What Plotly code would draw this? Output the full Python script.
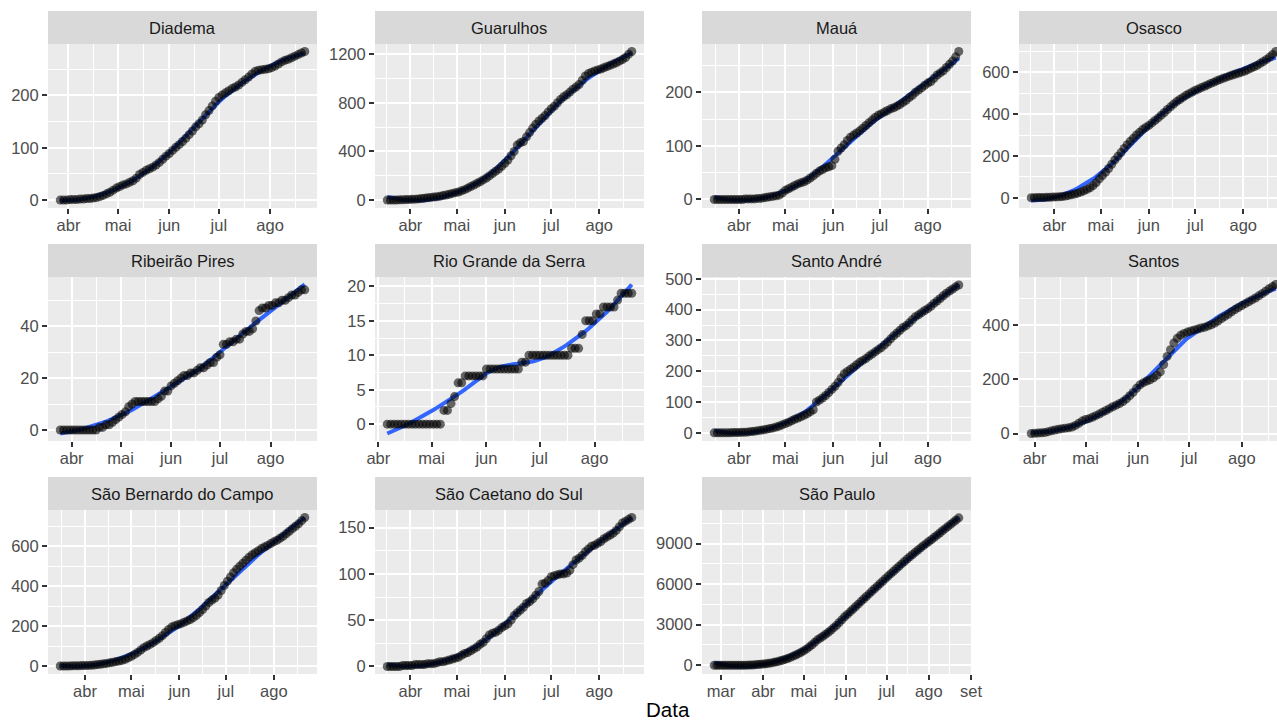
import numpy as np
import pandas as pd
import plotly.graph_objects as go

# ---------------- data ----------------
cities = ["Diadema", "Guarulhos", "Mauá", "Osasco",
          "Ribeirão Pires", "Rio Grande da Serra", "Santo André", "Santos",
          "São Bernardo do Campo", "São Caetano do Sul", "São Paulo"]
start_dates = ["2020-03-27", "2020-03-17", "2020-03-16", "2020-03-17",
               "2020-03-25", "2020-04-06", "2020-03-16", "2020-03-30",
               "2020-03-16", "2020-03-17", "2020-02-25"]
step_days = 2  # one observation every two days

diadema = [0, 0, 0, 1, 1, 1, 2, 2, 3, 3, 4, 5, 7, 9, 12, 15, 19, 23, 26, 29,
           31, 34, 37, 42, 49, 53, 57, 60, 63, 67, 72, 78, 84, 89, 95, 101, 106, 112, 118, 125,
           132, 140, 146, 153, 163, 171, 180, 189, 196, 201, 205, 209, 213, 216, 220, 225, 230, 235, 241, 246,
           248, 249, 250, 251, 253, 256, 260, 264, 267, 269, 272, 275, 278, 281, 284]
guarulhos = [0, 0, 1, 1, 2, 3, 4, 5, 6, 8, 10, 13, 16, 19, 22, 25, 28, 32, 37, 42,
             48, 55, 61, 67, 76, 86, 98, 112, 124, 138, 151, 166, 181, 199, 218, 237, 255, 278, 303, 330,
             365, 400, 452, 471, 482, 520, 555, 592, 624, 650, 672, 695, 725, 751, 772, 800, 828, 850, 866, 888,
             912, 930, 950, 985, 1020, 1040, 1052, 1062, 1070, 1078, 1088, 1098, 1108, 1118, 1129, 1142, 1155, 1172, 1200, 1222]
maua = [0, 0, 0, 0, 0, 0, 0, 0, 0, 0, 1, 1, 1, 1, 2, 2, 3, 4, 5, 6,
        7, 8, 12, 17, 20, 23, 26, 29, 31, 33, 36, 40, 44, 49, 53, 56, 59, 61, 63, 75,
        90, 96, 102, 110, 116, 120, 124, 128, 133, 138, 143, 148, 153, 157, 160, 163, 166, 169, 171, 174,
        177, 181, 185, 190, 194, 200, 204, 208, 213, 217, 220, 226, 232, 236, 240, 246, 252, 258, 266, 276]
osasco = [0, 0, 1, 1, 1, 2, 2, 3, 4, 5, 6, 8, 11, 14, 18, 22, 27, 33, 40, 48,
          58, 72, 90, 106, 122, 140, 160, 181, 198, 216, 236, 254, 270, 285, 300, 313, 326, 336, 346, 358,
          370, 382, 395, 408, 422, 435, 448, 460, 470, 480, 490, 498, 506, 514, 520, 527, 533, 540, 547, 553,
          560, 566, 572, 577, 582, 587, 592, 597, 601, 606, 613, 620, 627, 634, 643, 652, 662, 673, 686, 700]
ribeirao_pires = [0, 0, 0, 0, 0, 0, 0, 0, 0, 0, 0, 0, 1, 1, 2, 2, 3, 4, 5, 6,
                  7, 9, 10, 11, 11, 11, 11, 11, 11, 11, 12, 13, 15, 15, 17, 18, 19, 20, 21, 21,
                  22, 22, 23, 24, 24, 25, 26, 26, 28, 29, 33, 33, 34, 34, 35, 35, 37, 38, 38, 39,
                  42, 46, 47, 47, 48, 48, 49, 49, 50, 50, 51, 52, 52, 53, 54, 54]
rio_grande_da_serra = [0, 0, 0, 0, 0, 0, 0, 0, 0, 0, 0, 0, 0, 0, 0, 0, 2, 2, 3, 4,
                       6, 6, 7, 7, 7, 7, 7, 7, 8, 8, 8, 8, 8, 8, 8, 8, 8, 8, 9, 9,
                       10, 10, 10, 10, 10, 10, 10, 10, 10, 10, 10, 10, 11, 11, 11, 13, 15, 15, 15, 16,
                       16, 17, 17, 17, 17, 18, 19, 19, 19, 19]
santo_andre = [0, 0, 0, 0, 0, 0, 1, 1, 1, 2, 2, 3, 4, 5, 7, 8, 10, 12, 14, 16,
               19, 22, 26, 30, 34, 39, 44, 48, 52, 57, 62, 68, 75, 100, 106, 113, 121, 131, 141, 151,
               163, 178, 192, 199, 206, 213, 221, 229, 235, 241, 249, 256, 263, 270, 277, 286, 295, 305, 315, 324,
               333, 342, 348, 357, 367, 377, 383, 390, 397, 403, 411, 420, 428, 436, 445, 453, 460, 467, 474, 480]
santos = [0, 1, 2, 3, 4, 7, 10, 13, 16, 18, 20, 21, 24, 30, 38, 46, 52, 55, 60, 66,
          72, 79, 85, 92, 99, 105, 111, 118, 128, 140, 152, 167, 180, 188, 194, 199, 206, 215, 228, 255,
          285, 310, 335, 352, 363, 370, 375, 379, 383, 386, 390, 393, 397, 402, 408, 416, 425, 433, 441, 450,
          458, 466, 473, 480, 487, 494, 501, 509, 517, 526, 535, 543, 551]
sao_bernardo = [0, 0, 0, 0, 1, 1, 1, 2, 2, 3, 4, 5, 7, 9, 11, 13, 16, 19, 22, 25,
                29, 34, 41, 49, 58, 68, 80, 92, 100, 108, 117, 128, 139, 152, 168, 183, 195, 202, 207, 212,
                219, 226, 233, 242, 254, 268, 283, 300, 318, 330, 340, 355, 378, 403, 425, 446, 467, 485, 500, 515,
                530, 545, 557, 567, 577, 588, 596, 604, 613, 622, 630, 640, 650, 662, 675, 688, 700, 712, 728, 744]
sao_caetano = [0, 0, 0, 0, 0, 1, 1, 1, 1, 2, 2, 2, 2, 3, 3, 3, 4, 5, 5, 6,
               7, 8, 9, 10, 12, 14, 15, 17, 19, 21, 24, 26, 30, 34, 36, 37, 39, 42, 44, 46,
               50, 55, 58, 61, 64, 68, 70, 73, 77, 81, 89, 90, 93, 97, 98, 99, 100, 100, 101, 104,
               110, 115, 117, 120, 124, 127, 130, 131, 133, 135, 138, 140, 142, 144, 147, 151, 155, 157, 159, 161]
sao_paulo = [0, 0, 0, 0, 0, 0, 0, 0, 0, 0, 0,
             1, 5, 10, 20, 35, 50, 70, 90, 110, 140,
             175, 215, 260, 310, 370, 430, 500, 580, 670, 760,
             860, 960, 1080, 1210, 1360, 1520, 1700, 1880, 2010, 2140,
             2290, 2440, 2600, 2780, 2960, 3160, 3370, 3590,
             3760, 3950, 4140, 4330, 4520, 4710, 4900, 5090, 5280, 5470,
             5660, 5840, 6030, 6220, 6410, 6600, 6780, 6960, 7140, 7320,
             7500, 7680, 7860, 8030, 8200, 8370, 8530, 8690, 8850, 9000,
             9160, 9310,
             9470, 9630, 9790, 9950, 10110, 10270, 10430, 10590, 10750, 10910]

series = [diadema, guarulhos, maua, osasco, ribeirao_pires, rio_grande_da_serra,
          santo_andre, santos, sao_bernardo, sao_caetano, sao_paulo]
y_tick_step = [100, 400, 100, 200, 20, 5, 100, 200, 200, 50, 3000]
month_labels = ["jan", "fev", "mar", "abr", "mai", "jun", "jul", "ago", "set", "out", "nov"]
month_starts = pd.date_range("2020-01-01", "2020-11-01", freq="MS")
x_title = "Data"

# ---------------- layout geometry (pixels) ----------------
W, H = 1277, 722
col_left = [48, 375, 702, 1019]
PW = 269
row_top = [44, 277, 510]
PH = 164
STRIP_H = 33
FONT = "Liberation Sans, Arial, Helvetica, sans-serif"

EPOCH = pd.Timestamp("1970-01-01")


def to_num(ts):
    return (pd.DatetimeIndex(ts) - EPOCH) / pd.Timedelta(days=1)


def to_ts(v):
    return EPOCH + pd.to_timedelta(v, unit="D")


def loess(x, y, xs, span=0.75):
    n = len(x)
    q = int(np.floor(n * span))
    out = []
    for x0 in xs:
        d = np.abs(x - x0)
        h = np.sort(d)[q - 1]
        w = (1 - np.clip(d / h, 0, 1) ** 3) ** 3
        X = np.vstack([np.ones(n), x - x0, (x - x0) ** 2]).T
        sw = np.sqrt(w)
        beta = np.linalg.lstsq(X * sw[:, None], y * sw, rcond=None)[0]
        out.append(beta[0])
    return np.array(out)


fig = go.Figure()
layout = dict(width=W, height=H, autosize=False,
              margin=dict(l=0, r=0, t=0, b=0, pad=0),
              paper_bgcolor="white", plot_bgcolor="#EBEBEB",
              showlegend=False, font=dict(family=FONT), shapes=[], annotations=[])

month_num = np.array(to_num(month_starts))
minor_num = (month_num[:-1] + month_num[1:]) / 2

for i, (city, start, vals) in enumerate(zip(cities, start_dates, series)):
    r, c = divmod(i, 4)
    k = i + 1
    xname = "x" if k == 1 else f"x{k}"
    yname = "y" if k == 1 else f"y{k}"

    dates = pd.date_range(start, periods=len(vals), freq=f"{step_days}D")
    xn = np.array(to_num(dates), dtype=float)
    yv = np.array(vals, dtype=float)
    xs = np.linspace(xn.min(), xn.max(), 80)
    ys = loess(xn, yv, xs)

    # smooth first, points on top (as in ggplot layer order)
    fig.add_trace(go.Scatter(x=to_ts(xs), y=ys, mode="lines", xaxis=xname, yaxis=yname,
                             line=dict(color="#3366FF", width=4), hoverinfo="skip"))
    fig.add_trace(go.Scatter(x=dates, y=yv, mode="markers", xaxis=xname, yaxis=yname,
                             marker=dict(color="rgba(0,0,0,0.58)", size=9, line=dict(width=0)),
                             hovertemplate="%{x|%d/%m}: %{y}<extra>" + city + "</extra>"))

    # x range (ggplot 5% expansion), cropped at the page edge for the last column
    span = xn.max() - xn.min()
    xlo, xhi = xn.min() - 0.05 * span, xn.max() + 0.05 * span
    left_px = col_left[c]
    right_px = left_px + PW
    if right_px > W:
        xhi = xlo + (xhi - xlo) * (W - left_px) / PW
        right_px = W
    ylo = min(yv.min(), ys.min())
    yhi = max(yv.max(), ys.max())
    ypad = 0.05 * (yhi - ylo)
    ylo, yhi = ylo - ypad, yhi + ypad

    maj_mask = (month_num >= xlo) & (month_num <= xhi)
    tickvals = [to_ts(v) for v in month_num[maj_mask]]
    ticktext = [lab for lab, m in zip(month_labels, maj_mask) if m]
    minv = [to_ts(v) for v in minor_num[(minor_num >= xlo) & (minor_num <= xhi)]]

    stp = y_tick_step[i]
    ymaj = np.arange(np.ceil(ylo / stp) * stp, yhi + 1e-9, stp)
    ymaj = [int(round(v)) for v in ymaj]
    ymin_ = np.arange(np.floor(ylo / stp) * stp + stp / 2, yhi, stp)
    ymin_ = ymin_[(ymin_ >= ylo) & (ymin_ <= yhi)]

    x0d, x1d = left_px / W, right_px / W
    y1d = 1 - row_top[r] / H
    y0d = 1 - (row_top[r] + PH) / H

    tickfont = dict(family=FONT, size=16.5, color="#4D4D4D")
    layout["xaxis" if k == 1 else f"xaxis{k}"] = dict(
        domain=[x0d, x1d], anchor=yname, type="date",
        range=[to_ts(xlo), to_ts(xhi)],
        tickmode="array", tickvals=tickvals, ticktext=ticktext,
        ticks="outside", ticklen=5, tickwidth=2, tickcolor="#333333",
        ticklabelstandoff=-3,
        showgrid=True, gridcolor="white", gridwidth=2,
        minor=dict(tickmode="array", tickvals=minv, showgrid=True,
                   gridcolor="white", gridwidth=1, ticks=""),
        showline=False, zeroline=False, tickfont=tickfont, automargin=False,
        fixedrange=True)
    layout["yaxis" if k == 1 else f"yaxis{k}"] = dict(
        domain=[y0d, y1d], anchor=xname, range=[ylo, yhi],
        tickmode="array", tickvals=ymaj, ticktext=[str(v) for v in ymaj],
        ticks="outside", ticklen=5, tickwidth=2, tickcolor="#333333",
        showgrid=True, gridcolor="white", gridwidth=2,
        minor=dict(tickmode="array", tickvals=list(ymin_), showgrid=True,
                   gridcolor="white", gridwidth=1, ticks=""),
        showline=False, zeroline=False, tickfont=tickfont, automargin=False,
        fixedrange=True)

    # facet strip
    layout["shapes"].append(dict(type="rect", xref="paper", yref="paper",
                                 x0=x0d, x1=x1d, y0=y1d, y1=1 - (row_top[r] - STRIP_H) / H,
                                 fillcolor="#D9D9D9", line=dict(width=0), layer="above"))
    layout["annotations"].append(dict(text=city, xref="paper", yref="paper",
                                      x=(left_px + PW / 2) / W,
                                      y=1 - (row_top[r] - STRIP_H / 2) / H,
                                      xanchor="center", yanchor="middle", showarrow=False,
                                      font=dict(family=FONT, size=16.5, color="#1A1A1A")))

layout["annotations"].append(dict(text=x_title, xref="paper", yref="paper",
                                  x=(col_left[0] + (col_left[3] + PW)) / 2 / W, y=1 - 709 / H,
                                  xanchor="center", yanchor="middle", showarrow=False,
                                  font=dict(family=FONT, size=20.5, color="black")))

fig.update_layout(**layout)
fig.write_html("out.html", config={"displayModeBar": False},
               post_script="document.body.style.margin='0';document.body.style.overflow='hidden';")
